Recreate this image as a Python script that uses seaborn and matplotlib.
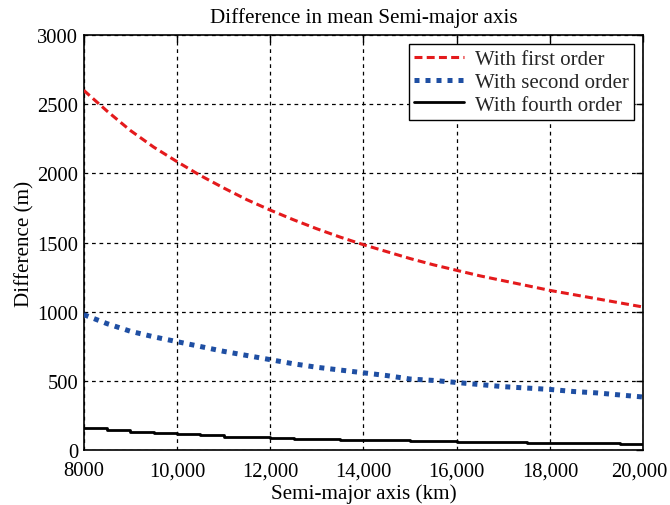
import matplotlib
matplotlib.use("Agg")
import matplotlib.pyplot as plt
import matplotlib.transforms as mtransforms
import seaborn as sns
import pandas as pd
from matplotlib.ticker import FuncFormatter

semi_major_km = [8000, 8500, 9000, 9500, 10000, 10500, 11000, 11500, 12000, 12500,
                 13000, 13500, 14000, 14500, 15000, 15500, 16000, 16500, 17000, 17500,
                 18000, 18500, 19000, 19500, 20000]
first_order = [2600, 2450, 2310, 2190, 2085, 1985, 1895, 1810, 1735, 1665,
               1600, 1540, 1485, 1435, 1385, 1340, 1300, 1260, 1225, 1190,
               1155, 1125, 1095, 1065, 1035]
second_order = [980, 915, 860, 820, 785, 750, 715, 685, 655, 625,
                600, 580, 560, 540, 515, 505, 490, 475, 460, 450,
                440, 425, 415, 400, 385]
fourth_order = [160, 145, 135, 125, 115, 110, 100, 95, 90, 85,
                80, 78, 75, 72, 68, 65, 63, 60, 58, 55,
                53, 52, 50, 48, 45]
series_names = ["With first order", "With second order", "With fourth order"]
x_ticks = [8000, 10000, 12000, 14000, 16000, 18000, 20000]
y_ticks = [0, 500, 1000, 1500, 2000, 2500, 3000]

sns.set_theme(style="white")
plt.rcParams['font.family'] = ['Liberation Serif', 'DejaVu Serif']

fig, ax = plt.subplots(figsize=(6.7, 5.06), dpi=100)
fig.subplots_adjust(left=0.125, right=0.96, top=0.929, bottom=0.108)

df1 = pd.DataFrame({"x": semi_major_km, "y": first_order})
df2 = pd.DataFrame({"x": semi_major_km, "y": second_order})
df4 = pd.DataFrame({"x": semi_major_km, "y": fourth_order})

sns.lineplot(data=df1, x="x", y="y", ax=ax, color="#e41a1c", linewidth=2.2,
             linestyle=(0, (2.6, 1.4)), label=series_names[0], zorder=3)
sns.lineplot(data=df2, x="x", y="y", ax=ax, color="#1f4fa3", linewidth=3.6,
             linestyle=(0, (1, 1.2)), label=series_names[1], zorder=3)
sns.lineplot(data=df4, x="x", y="y", ax=ax, color="black", linewidth=2,
             drawstyle="steps-post", label=series_names[2], zorder=3)

ax.set_xlim(8000, 20000)
ax.set_ylim(0, 3000)
ax.set_xticks(x_ticks)
ax.set_yticks(y_ticks)
ax.xaxis.set_major_formatter(FuncFormatter(lambda v, p: "8000" if v == 8000 else f"{int(v):,}"))
ax.grid(True, color="black", linestyle=(0, (3, 3)), linewidth=0.9)
ax.tick_params(direction="in", length=5, width=1, top=True, right=True,
               labelsize=14.8, colors="black")
ax.tick_params(axis="x", pad=8)
ax.tick_params(axis="y", pad=4)
for s in ax.spines.values():
    s.set_color("black")
    s.set_linewidth(1.2)

ax.set_title("Difference in mean Semi-major axis", fontsize=15.2, color="black", pad=9)
ax.set_xlabel("Semi-major axis (km)", fontsize=15.2, color="black", labelpad=2)
ax.set_ylabel("Difference (m)", fontsize=15.2, color="black", labelpad=2)

leg = ax.legend(loc="upper right", fontsize=15, frameon=True, fancybox=False,
                edgecolor="black", framealpha=1, borderpad=0.25, labelspacing=0.15,
                handlelength=2.4, handletextpad=0.5, borderaxespad=0.45)
leg.get_frame().set_linewidth(1.0)

fig.canvas.draw()
last = ax.get_xticklabels()[-1]
last.set_transform(last.get_transform() + mtransforms.ScaledTranslation(-3 / 72, 0, fig.dpi_scale_trans))

fig.savefig("out.png", dpi=100)
